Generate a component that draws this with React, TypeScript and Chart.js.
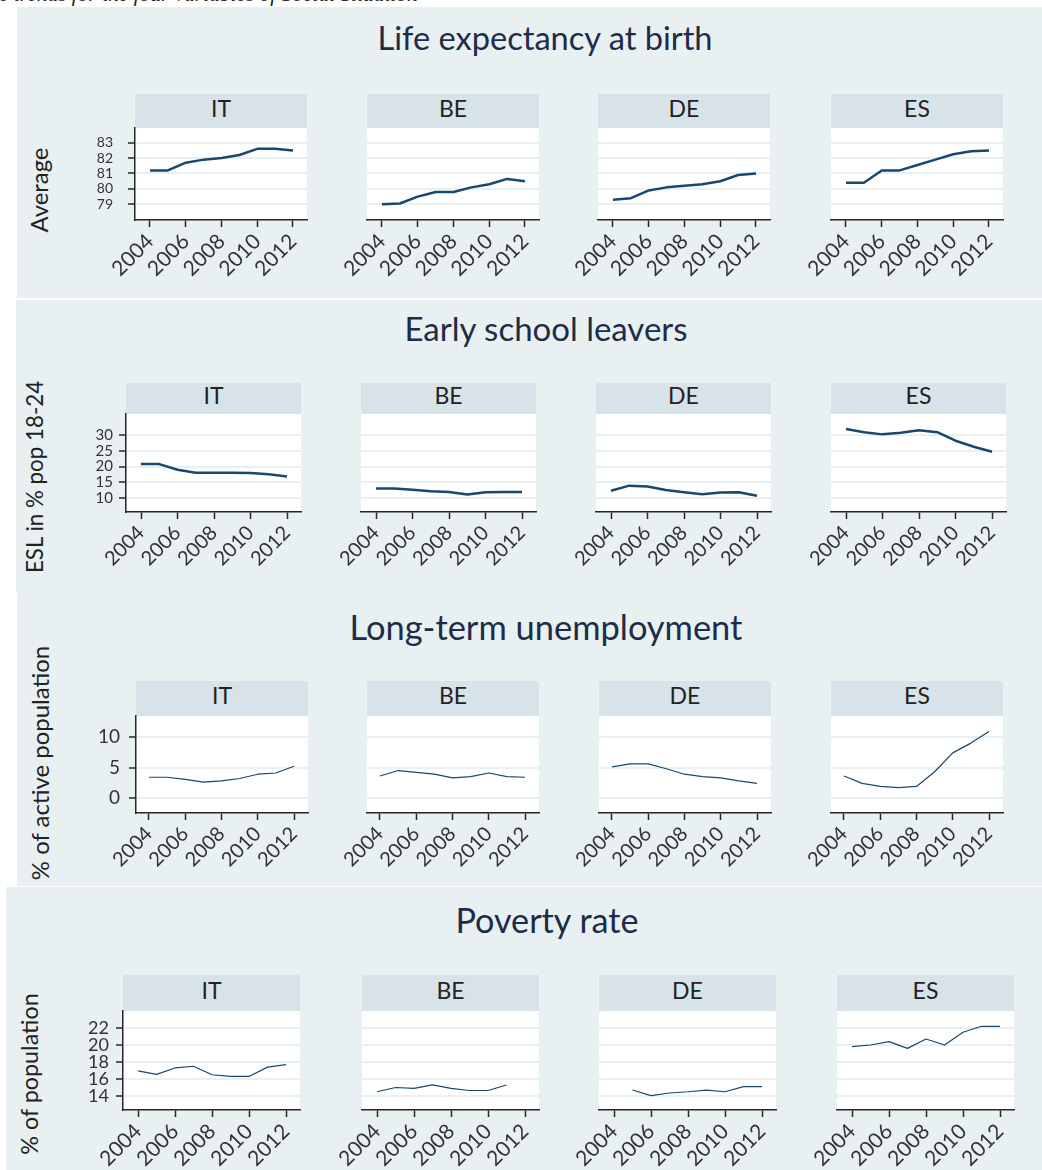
import React, { useEffect, useRef } from 'react';
import { Chart, registerables } from 'chart.js';

Chart.register(...registerables);

// ---------------- data ----------------
const YEARS = [2004, 2005, 2006, 2007, 2008, 2009, 2010, 2011, 2012];
const X_TICKS = [2004, 2006, 2008, 2010, 2012];
const COUNTRIES = ['IT', 'BE', 'DE', 'ES'];

const ROW_TITLES = ['Life expectancy at birth', 'Early school leavers', 'Long-term unemployment', 'Poverty rate'];
const Y_TITLES = ['Average', 'ESL in % pop 18-24', '% of active population', '% of population'];
const CAPTION = 'e trends for the four variables of Social Situation';

const LIFE_IT = [81.2, 81.2, 81.7, 81.9, 82.0, 82.2, 82.6, 82.6, 82.5];
const LIFE_BE = [79.0, 79.05, 79.5, 79.8, 79.8, 80.1, 80.3, 80.65, 80.5];
const LIFE_DE = [79.3, 79.4, 79.9, 80.1, 80.2, 80.3, 80.5, 80.9, 81.0];
const LIFE_ES = [80.4, 80.4, 81.2, 81.2, 81.55, 81.9, 82.25, 82.45, 82.5];
const LIFE_TICKS = [79, 80, 81, 82, 83];

const ESL_IT = [20.8, 20.8, 19.0, 18.1, 18.1, 18.1, 18.0, 17.6, 16.9];
const ESL_BE = [13.1, 13.1, 12.7, 12.2, 12.0, 11.2, 11.9, 12.0, 12.0];
const ESL_DE = [12.4, 14.0, 13.7, 12.6, 11.9, 11.3, 11.8, 11.9, 10.8];
const ESL_ES = [31.9, 30.9, 30.2, 30.7, 31.5, 30.9, 28.2, 26.3, 24.7];
const ESL_TICKS = [10, 15, 20, 25, 30];

const LTU_IT = [3.4, 3.4, 3.05, 2.6, 2.8, 3.2, 3.9, 4.1, 5.2];
const LTU_BE = [3.6, 4.5, 4.2, 3.9, 3.3, 3.5, 4.1, 3.5, 3.4];
const LTU_DE = [5.1, 5.6, 5.6, 4.8, 3.9, 3.5, 3.3, 2.8, 2.4];
const LTU_ES = [3.6, 2.4, 1.9, 1.7, 1.9, 4.3, 7.4, 9.0, 10.9];
const LTU_TICKS = [0, 5, 10];

const POV_IT = [16.96, 16.55, 17.3, 17.5, 16.5, 16.3, 16.3, 17.4, 17.7];
const POV_BE = [14.5, 15.0, 14.9, 15.3, 14.9, 14.65, 14.65, 15.3, null];
const POV_DE = [null, 14.7, 14.05, 14.35, 14.5, 14.7, 14.5, 15.1, 15.1];
const POV_ES = [19.8, 20.0, 20.4, 19.6, 20.7, 20.0, 21.5, 22.2, 22.2];
const POV_TICKS = [14, 16, 18, 20, 22];

const SERIES = [
  [LIFE_IT, LIFE_BE, LIFE_DE, LIFE_ES],
  [ESL_IT, ESL_BE, ESL_DE, ESL_ES],
  [LTU_IT, LTU_BE, LTU_DE, LTU_ES],
  [POV_IT, POV_BE, POV_DE, POV_ES],
];
const Y_TICKS = [LIFE_TICKS, ESL_TICKS, LTU_TICKS, POV_TICKS];

// ---------------- styles / layout ----------------
const FONT = 'Lato';
const LINE_COLOR = '#1a476f';
const AXIS_COLOR = '#262626';
const PANEL_BG = '#e8f0f2';
const STRIP_BG = '#d8e3e9';
const GRID_COLOR = '#e8f0f2';
const TITLE_COLOR = '#1f2c47';
const TEXT_COLOR = '#222222';

type Layout = {
  bg: { l: number; t: number; r: number; b: number };
  titleCx: number; titleCapTop: number; titleW: number;
  yTitleCx: number; yTitleCy: number; yTitleW: number;
  lefts: number[]; w: number; stripTop: number; plotTop: number; plotBottom: number;
  x2004: number; x2012: number; yRef: number[];
  ytFont: number; ytPad: number; xtFont: number; lineW: number;
};

const LAYOUTS: Layout[] = [
  {
    bg: { l: 17, t: 7, r: 1042, b: 298 }, titleCx: 545, titleCapTop: 27, titleW: 336,
    yTitleCx: 42, yTitleCy: 190, yTitleW: 85,
    lefts: [135, 367, 598, 831], w: 172, stripTop: 94, plotTop: 128, plotBottom: 220,
    x2004: 15, x2012: 158, yRef: [83, 142.7, 79, 204.3], ytFont: 14, ytPad: 15, xtFont: 21, lineW: 2.5,
  },
  {
    bg: { l: 16, t: 300, r: 1042, b: 593 }, titleCx: 546, titleCapTop: 318, titleW: 284,
    yTitleCx: 38, yTitleCy: 477, yTitleW: 193,
    lefts: [126, 361, 596, 831], w: 175, stripTop: 383, plotTop: 414, plotBottom: 512,
    x2004: 15, x2012: 161, yRef: [30, 435, 10, 498.3], ytFont: 15, ytPad: 6, xtFont: 20, lineW: 2.5,
  },
  {
    bg: { l: 17, t: 593, r: 1042, b: 886 }, titleCx: 546, titleCapTop: 615, titleW: 393,
    yTitleCx: 43, yTitleCy: 763, yTitleW: 235,
    lefts: [136, 367, 599, 831], w: 172, stripTop: 681, plotTop: 716, plotBottom: 813,
    x2004: 13, x2012: 158, yRef: [10, 737, 0, 798], ytFont: 19, ytPad: 9, xtFont: 20, lineW: 1.2,
  },
  {
    bg: { l: 6, t: 887, r: 1042, b: 1170 }, titleCx: 547, titleCapTop: 908, titleW: 184,
    yTitleCx: 32, yTitleCy: 1074, yTitleW: 162,
    lefts: [123, 362, 599, 837], w: 177, stripTop: 975, plotTop: 1011, plotBottom: 1110,
    x2004: 15, x2012: 163, yRef: [22, 1028, 14, 1096], ytFont: 18, ytPad: 7, xtFont: 21, lineW: 1.2,
  },
];

const CANVAS_L = 80;
const CANVAS_T = 40;
const CANVAS_R = 24;
const CANVAS_B = 76;

let measureCtx: CanvasRenderingContext2D | null = null;
function fitSize(text: string, width: number, family: string, style = ''): number {
  if (!measureCtx) measureCtx = document.createElement('canvas').getContext('2d');
  if (!measureCtx) return 20;
  measureCtx.font = `${style} 100px ${family}`;
  const m = measureCtx.measureText(text).width;
  return (100 * width) / m;
}

const plotBg = {
  id: 'plotBg',
  beforeDraw(chart: any) {
    const { ctx, chartArea } = chart;
    ctx.save();
    ctx.fillStyle = '#ffffff';
    ctx.fillRect(chartArea.left, chartArea.top, chartArea.right - chartArea.left, chartArea.bottom - chartArea.top);
    ctx.restore();
  },
};

function SubChart({ row, col }: { row: number; col: number }) {
  const ref = useRef<HTMLCanvasElement>(null);
  const lay = LAYOUTS[row];
  const plotH = lay.plotBottom - lay.plotTop;
  const cw = CANVAS_L + lay.w + CANVAS_R;
  const ch = CANVAS_T + plotH + CANVAS_B;
  const left = lay.lefts[col] - CANVAS_L;
  const top = lay.plotTop - CANVAS_T;

  useEffect(() => {
    const perYear = (lay.x2012 - lay.x2004) / 8;
    const xMin = 2004 - lay.x2004 / perYear;
    const xMax = 2004 + (lay.w - lay.x2004) / perYear;
    const [vA, pA, vB, pB] = lay.yRef;
    const pxPer = (pB - pA) / (vA - vB);
    const yMax = vA + (pA - lay.plotTop) / pxPer;
    const yMin = vB - (lay.plotBottom - pB) / pxPer;
    const first = col === 0;
    const values = SERIES[row][col];
    const yTicks = Y_TICKS[row];

    const chart = new Chart(ref.current as HTMLCanvasElement, {
      type: 'line',
      data: {
        datasets: [
          {
            data: YEARS.map((x, i) => ({ x, y: values[i] as any })),
            borderColor: LINE_COLOR,
            borderWidth: lay.lineW,
            pointRadius: 0,
            tension: 0,
            fill: false,
            borderJoinStyle: 'round',
          },
        ],
      },
      options: {
        animation: false,
        responsive: false,
        maintainAspectRatio: false,
        devicePixelRatio: 1,
        events: [],
        layout: { padding: { left: 0, top: CANVAS_T, right: CANVAS_R, bottom: 0 } },
        plugins: { legend: { display: false }, tooltip: { enabled: false }, title: { display: false } },
        scales: {
          x: {
            type: 'linear',
            min: xMin,
            max: xMax,
            afterBuildTicks: (s: any) => {
              s.ticks = X_TICKS.map((v) => ({ value: v }));
            },
            afterFit: (s: any) => {
              s.height = CANVAS_B;
            },
            ticks: {
              autoSkip: false,
              minRotation: 45,
              maxRotation: 45,
              padding: 2,
              color: '#333333',
              font: { family: FONT, size: lay.xtFont },
              callback: (v: any) => String(v),
            },
            grid: { drawOnChartArea: false, drawTicks: true, tickLength: 7, tickColor: AXIS_COLOR, tickWidth: 1.5 },
            border: { display: true, color: AXIS_COLOR, width: 1.5 },
          },
          y: {
            type: 'linear',
            min: yMin,
            max: yMax,
            afterBuildTicks: (s: any) => {
              s.ticks = yTicks.map((v) => ({ value: v }));
            },
            afterFit: (s: any) => {
              s.width = CANVAS_L;
            },
            ticks: {
              display: first,
              autoSkip: false,
              padding: lay.ytPad,
              color: '#333333',
              font: { family: FONT, size: lay.ytFont },
              callback: (v: any) => String(v),
            },
            grid: {
              color: GRID_COLOR,
              lineWidth: 2,
              drawTicks: first,
              tickLength: 7,
              tickColor: AXIS_COLOR,
              tickWidth: 1.5,
            },
            border: { display: first, color: AXIS_COLOR, width: 1.5 },
          },
        },
      } as any,
      plugins: [plotBg],
    });
    return () => chart.destroy();
  }, [row, col]);

  return (
    <canvas
      ref={ref}
      width={cw}
      height={ch}
      style={{ position: 'absolute', left, top, width: cw, height: ch }}
    />
  );
}

function Row({ row }: { row: number }) {
  const lay = LAYOUTS[row];
  const titleSize = fitSize(ROW_TITLES[row], lay.titleW, FONT);
  const yTitleSize = fitSize(Y_TITLES[row], lay.yTitleW, FONT);
  return (
    <>
      <div
        style={{
          position: 'absolute',
          left: lay.bg.l,
          top: lay.bg.t,
          width: lay.bg.r - lay.bg.l,
          height: lay.bg.b - lay.bg.t,
          background: PANEL_BG,
        }}
      />
      <div
        style={{
          position: 'absolute',
          left: lay.titleCx,
          top: lay.titleCapTop - 0.27 * titleSize,
          transform: 'translateX(-50%)',
          fontFamily: FONT,
          fontSize: titleSize,
          lineHeight: 1.2,
          color: TITLE_COLOR,
          whiteSpace: 'nowrap',
        }}
      >
        {ROW_TITLES[row]}
      </div>
      <div
        style={{
          position: 'absolute',
          left: lay.yTitleCx - 0.13 * yTitleSize,
          top: lay.yTitleCy,
          transform: 'translate(-50%, -50%) rotate(-90deg)',
          fontFamily: FONT,
          fontSize: yTitleSize,
          lineHeight: 1.2,
          color: TEXT_COLOR,
          whiteSpace: 'nowrap',
        }}
      >
        {Y_TITLES[row]}
      </div>
      {COUNTRIES.map((c, col) => (
        <div
          key={c}
          style={{
            position: 'absolute',
            left: lay.lefts[col],
            top: lay.stripTop,
            width: lay.w,
            height: lay.plotTop - lay.stripTop,
            background: STRIP_BG,
            display: 'flex',
            alignItems: 'center',
            justifyContent: 'center',
            fontFamily: FONT,
            fontSize: 23,
            lineHeight: 1.2,
            color: TEXT_COLOR,
            paddingBottom: 5,
            boxSizing: 'border-box',
          }}
        >
          {c}
        </div>
      ))}
      {COUNTRIES.map((c, col) => (
        <SubChart key={c} row={row} col={col} />
      ))}
    </>
  );
}

export default function App() {
  const capSize = fitSize(CAPTION, 419, 'Liberation Serif', 'italic');
  return (
    <div
      style={{
        position: 'absolute',
        left: 0,
        top: 0,
        width: 1042,
        height: 1170,
        overflow: 'hidden',
        background: '#ffffff',
      }}
    >
      <div
        style={{
          position: 'absolute',
          left: -1,
          top: 1.5 - 0.84 * capSize,
          fontFamily: 'Liberation Serif',
          fontStyle: 'italic',
          fontSize: capSize,
          lineHeight: 1,
          color: '#222',
          whiteSpace: 'nowrap',
        }}
      >
        {CAPTION}
      </div>
      {LAYOUTS.map((_, r) => (
        <Row key={r} row={r} />
      ))}
    </div>
  );
}
